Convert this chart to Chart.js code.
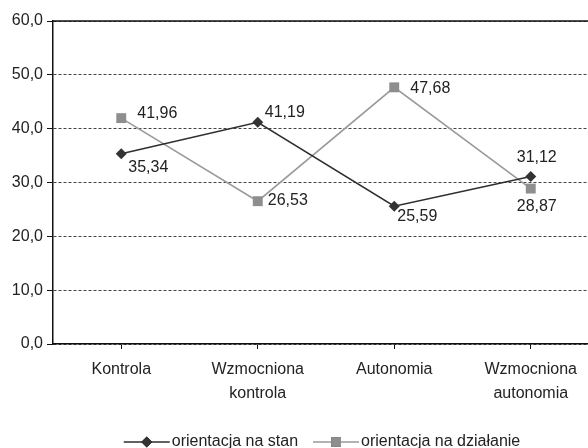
<!DOCTYPE html>
<html>
<head>
<meta charset="utf-8">
<script src="https://cdn.jsdelivr.net/npm/chart.js@4.4.0/dist/chart.umd.min.js"></script>
<style>
  html, body { margin: 0; padding: 0; background: #fff; overflow: hidden; }
  #wrap { width: 588px; height: 448px; overflow: hidden; }
</style>
</head>
<body>
<div id="wrap"><canvas id="chart" width="606" height="448"></canvas></div>
<script>
const categories = [['Kontrola'], ['Wzmocniona', 'kontrola'], ['Autonomia'], ['Wzmocniona', 'autonomia']];
const stanValues = [35.34, 41.19, 25.59, 31.12];
const dzialanieValues = [41.96, 26.53, 47.68, 28.87];
const seriesNames = ['orientacja na stan', 'orientacja na działanie'];

// where each value label sits, relative to its point
const labelOffsets = [
    [[7, 14, 'left'], [7, -10, 'left'], [3, 10, 'left'], [6, -19, 'center']],
    [[16, -5, 'left'], [10, -1, 'left'], [16, 1, 'left'], [6, 18, 'center']]
];

const FONT = "16px 'Liberation Sans', Arial, sans-serif";
const fmt = v => v.toFixed(2).replace('.', ',');

const extras = {
    id: 'extras',
    afterDraw(chart) {
        const ctx = chart.ctx;
        const area = chart.chartArea;
        ctx.save();
        // solid top line at 60
        ctx.strokeStyle = '#111';
        ctx.lineWidth = 1.5;
        ctx.beginPath();
        ctx.moveTo(area.left, area.top);
        ctx.lineTo(area.right, area.top);
        ctx.stroke();

        // value labels
        ctx.font = FONT;
        ctx.fillStyle = '#222';
        ctx.textBaseline = 'middle';
        chart.data.datasets.forEach((ds, di) => {
            chart.getDatasetMeta(di).data.forEach((pt, i) => {
                const [dx, dy, align] = labelOffsets[di][i];
                ctx.textAlign = align;
                ctx.fillText(fmt(ds.data[i]), pt.x + dx, pt.y + dy);
            });
        });

        // legend: line with marker, then name
        const y = 442;
        const lineLen = 46;
        const gap = 2, between = 15;
        ctx.textAlign = 'left';
        const widths = seriesNames.map(n => ctx.measureText(n).width);
        const total = widths.reduce((a, w) => a + lineLen + gap + w, 0) + between;
        let x = 322 - total / 2;
        chart.data.datasets.forEach((ds, di) => {
            ctx.strokeStyle = ds.borderColor;
            ctx.lineWidth = 1.5;
            ctx.beginPath();
            ctx.moveTo(x, y);
            ctx.lineTo(x + lineLen, y);
            ctx.stroke();
            Chart.helpers.drawPoint(ctx, {
                pointStyle: ds.pointStyle,
                radius: ds.pointRadius,
                borderWidth: 0
            }, x + lineLen / 2, y);
            ctx.fillStyle = ds.pointBackgroundColor;
            ctx.fill();
            ctx.fillStyle = '#222';
            ctx.fillText(seriesNames[di], x + lineLen + gap, y);
            x += lineLen + gap + widths[di] + between;
        });
        ctx.restore();
    }
};

new Chart(document.getElementById('chart'), {
    type: 'line',
    data: {
        labels: categories,
        datasets: [
            {
                label: seriesNames[0],
                data: stanValues,
                borderColor: '#2e2e2e',
                borderWidth: 1.6,
                pointStyle: 'rectRot',
                pointRadius: 5.5,
                pointBackgroundColor: '#333',
                pointBorderWidth: 0,
                tension: 0
            },
            {
                label: seriesNames[1],
                data: dzialanieValues,
                borderColor: '#9a9a9a',
                borderWidth: 1.6,
                pointStyle: 'rect',
                pointRadius: 7,
                pointBackgroundColor: '#8e8e8e',
                pointBorderWidth: 0,
                tension: 0
            }
        ]
    },
    options: {
        responsive: false,
        animation: false,
        devicePixelRatio: 1,
        layout: { padding: { top: 21, right: 3, left: 0, bottom: 0 } },
        plugins: {
            legend: { display: false },
            tooltip: { enabled: false }
        },
        scales: {
            x: {
                offset: true,
                afterFit: s => { s.height = 104; },
                grid: {
                    offset: false,
                    drawOnChartArea: false,
                    drawTicks: true,
                    tickLength: 5,
                    tickColor: '#111',
                    tickWidth: 1
                },
                border: { color: '#111', width: 1.5 },
                ticks: {
                    padding: 9,
                    color: '#222',
                    maxRotation: 0,
                    autoSkip: false,
                    font: { family: "'Liberation Sans', Arial, sans-serif", size: 16, lineHeight: 1.5 }
                }
            },
            y: {
                min: 0,
                max: 60,
                afterFit: s => { s.width = 53; },
                grid: {
                    color: '#444',
                    lineWidth: 1,
                    drawTicks: true,
                    tickLength: 6,
                    tickColor: '#111',
                    tickBorderDash: [6, 0]
                },
                border: { color: '#111', width: 1.5, dash: [3, 2] },
                ticks: {
                    stepSize: 10,
                    padding: 4,
                    color: '#222',
                    font: { family: "'Liberation Sans', Arial, sans-serif", size: 16 },
                    callback: v => v.toFixed(1).replace('.', ',')
                }
            }
        }
    },
    plugins: [extras]
});
</script>
</body>
</html>
